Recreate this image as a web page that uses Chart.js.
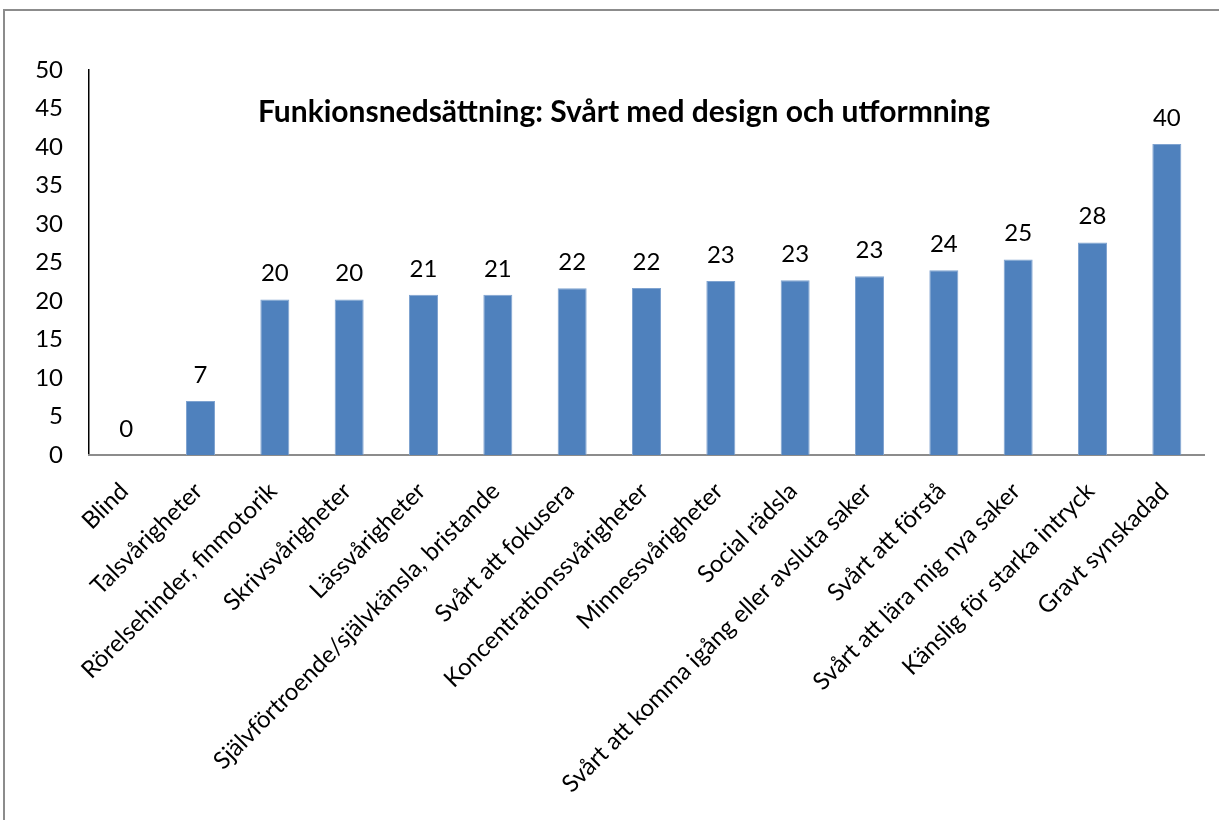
<!DOCTYPE html>
<html lang="sv">
<head>
<meta charset="utf-8">
<script src="https://cdn.jsdelivr.net/npm/chart.js"></script>
<style>
  html, body { margin: 0; padding: 0; background: #fff; overflow: hidden; }
  #frame {
    position: absolute; left: 3px; top: 9px; width: 1400px; height: 1000px;
    border-left: 2px solid #8c8c8c; border-top: 2px solid #8c8c8c;
  }
  #wrap { position: absolute; left: 0; top: 0; width: 1219px; height: 820px; }
</style>
</head>
<body>
<div id="frame"></div>
<div id="wrap"><canvas id="barChart"></canvas></div>
<script>
const chartTitle = "Funkionsnedsättning: Svårt med design och utformning";

const categories = [
  "Blind",
  "Talsvårigheter",
  "Rörelsehinder, finmotorik",
  "Skrivsvårigheter",
  "Lässvårigheter",
  "Självförtroende/självkänsla, bristande",
  "Svårt att fokusera",
  "Koncentrationssvårigheter",
  "Minnessvårigheter",
  "Social rädsla",
  "Svårt att komma igång eller avsluta saker",
  "Svårt att förstå",
  "Svårt att lära mig nya saker",
  "Känslig för starka intryck",
  "Gravt synskadad"
];
const values = [0, 7.0, 20.2, 20.2, 20.8, 20.8, 21.65, 21.7, 22.6, 22.7, 23.2, 24.0, 25.4, 27.6, 40.4];

const yMin = 0;
const yMax = 50;
const yStep = 5;

const font = "Lato, 'Open Sans', sans-serif";

// value labels above the bars + title inside the plot
const barLabels = {
  id: "barLabels",
  afterDatasetsDraw(chart) {
    const ctx = chart.ctx;
    const meta = chart.getDatasetMeta(0);
    ctx.save();
    ctx.fillStyle = "#000";
    ctx.font = "24px " + font;
    ctx.textAlign = "center";
    ctx.textBaseline = "middle";
    meta.data.forEach((bar, i) => {
      ctx.fillText(String(Math.round(values[i])), bar.x, bar.y - 26);
    });
    ctx.font = "bold 30px " + font;
    ctx.fillText(chartTitle, 624, chart.chartArea.top + 42);
    ctx.restore();
  }
};

new Chart(document.getElementById("barChart"), {
  type: "bar",
  data: {
    labels: categories,
    datasets: [
      {
        data: values,
        backgroundColor: "#4f81bd",
        borderColor: "#7fa3d0",
        borderWidth: 1,
        barPercentage: 0.6,
        categoryPercentage: 0.65,
      },
    ],
  },
  options: {
    responsive: true,
    maintainAspectRatio: false,
    animation: false,
    layout: {
      padding: { top: 70, right: 15, bottom: 0, left: 0 },
    },
    plugins: {
      legend: { display: false },
      tooltip: { enabled: false },
    },
    scales: {
      y: {
        min: yMin,
        max: yMax,
        ticks: {
          stepSize: yStep,
          color: "#000",
          padding: 26,
          font: { family: font, size: 24 },
        },
        grid: { display: false, drawTicks: false },
        border: { display: true, color: "#000", width: 1.5 },
        afterFit(scale) {
          scale.width = 89;
        },
      },
      x: {
        ticks: {
          color: "#000",
          maxRotation: 45,
          minRotation: 45,
          autoSkip: false,
          padding: 22,
          labelOffset: -2,
          font: { family: font, size: 24 },
        },
        grid: { display: false, drawTicks: false },
        border: { display: true, color: "#8c8c8c", width: 2 },
        afterFit(scale) {
          scale.height = 365;
        },
      },
    },
  },
  plugins: [barLabels],
});
</script>
</body>
</html>
